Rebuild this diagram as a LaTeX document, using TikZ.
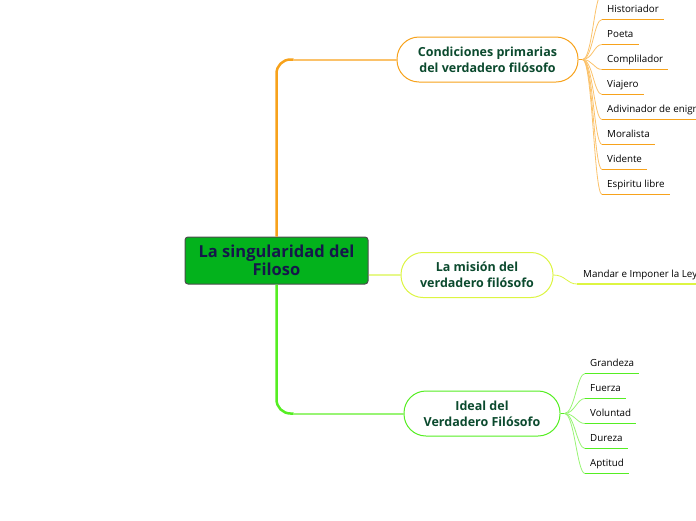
\documentclass[tikz,border=0pt]{standalone}
\usepackage{fontspec}
\setmainfont{Open Sans}
\definecolor{rootfill}{HTML}{03B21C}
\definecolor{rootink}{HTML}{15174A}
\definecolor{nodeink}{HTML}{0B4A2E}
\definecolor{orangeA}{HTML}{F7A21B}
\definecolor{orangeB}{HTML}{FBC26A}
\definecolor{yellowA}{HTML}{DDF542}
\definecolor{yellowB}{HTML}{E6F88A}
\definecolor{greenA}{HTML}{55EE22}
\definecolor{greenB}{HTML}{98F474}
\tikzset{
  topic/.style={draw, line width=1pt, fill=white, rounded corners=22pt,
    minimum height=45pt, align=center, text=nodeink,
    font=\fontsize{12.5}{16}\selectfont\bfseries},
  leaf/.style={anchor=south west, inner xsep=5pt, inner ysep=2.5pt,
    text depth=4pt, font=\fontsize{9.8}{11}\selectfont, text=black},
  uline/.style={line width=1.3pt},
  twig/.style={line width=0.8pt}
}
\begin{document}
\begin{tikzpicture}[x=1pt,y=-1pt]
  \useasboundingbox (0,0) rectangle (696,520);
  \clip (0,0) rectangle (696,520);

  % central idea
  \node[draw=black!70, line width=1pt, fill=rootfill, rounded corners=3pt,
    minimum width=183pt, minimum height=47pt, align=center, text=rootink,
    font=\fontsize{16.5}{18}\selectfont\bfseries] (root) at (276.5,260.5)
    {La singularidad del\\Filoso};

  % main topics
  \node[topic, draw=orangeA, minimum width=181pt] (cond) at (487.5,59.5)
    {Condiciones primarias\\del verdadero filósofo};
  \node[topic, draw=yellowA, minimum width=152pt] (mision) at (477,275)
    {La misión del\\verdadero filósofo};
  \node[topic, draw=greenA, minimum width=156pt] (ideal) at (482,413.5)
    {Ideal del\\Verdadero Filósofo};

  % trunk
  \draw[orangeA, line width=2.5pt, rounded corners=14pt] (root.north)
    -- (root.north |- cond.west) -- ([xshift=17pt]root.north |- cond.west);
  \draw[orangeB, line width=2pt] ([xshift=17pt]root.north |- cond.west) -- (cond.west);
  \draw[greenA, line width=2.5pt, rounded corners=14pt] (root.south)
    -- (root.south |- ideal.west) -- ([xshift=17pt]root.south |- ideal.west);
  \draw[greenB, line width=2pt] ([xshift=17pt]root.south |- ideal.west) -- (ideal.west);
  \draw[yellowB, line width=2pt] (root.east |- mision.west) -- (mision.west);

  % leaves of the first topic
  \coordinate (hubA) at ([xshift=4pt]cond.east);
  \draw[orangeA, line width=1.5pt] (cond.east) -- (hubA);
  \coordinate (up) at (602,-6);
  \draw[twig, orangeB] (hubA) .. controls +(10,0) and +(-8,0) .. (up);
  \foreach \name/\txt [count=\i] in {hist/Historiador, poeta/Poeta,
      comp/Complilador, viaj/Viajero, adiv/Adivinador de enigmas,
      moral/Moralista, vid/Vidente, esp/Espiritu libre} {
    \node[leaf] (\name) at (602,{19.5+25*(\i-1)}) {\txt};
    \draw[twig, orangeB] (hubA) .. controls +(10,0) and +(-8,0) .. (\name.south west);
    \draw[uline, orangeA] (\name.south west) -- (\name.south east);
  }

  % leaf of the second topic
  \node[leaf, inner xsep=6pt] (ley) at (577,284) {Mandar e Imponer la Ley};
  \draw[twig, yellowA] (mision.east) .. controls +(12,0) and +(-10,0) .. (ley.south west);
  \draw[uline, yellowA] (ley.south west) -- (ley.south east);

  % leaves of the third topic
  \coordinate (hubC) at ([xshift=4pt]ideal.east);
  \draw[greenA, line width=1.5pt] (ideal.east) -- (hubC);
  \foreach \name/\txt [count=\i] in {gran/Grandeza, fuer/Fuerza,
      volu/Voluntad, dure/Dureza, apti/Aptitud} {
    \node[leaf] (\name) at (585,{373.5+25*(\i-1)}) {\txt};
    \draw[twig, greenB] (hubC) .. controls +(10,0) and +(-8,0) .. (\name.south west);
    \draw[uline, greenA] (\name.south west) -- (\name.south east);
  }
\end{tikzpicture}
\end{document}
